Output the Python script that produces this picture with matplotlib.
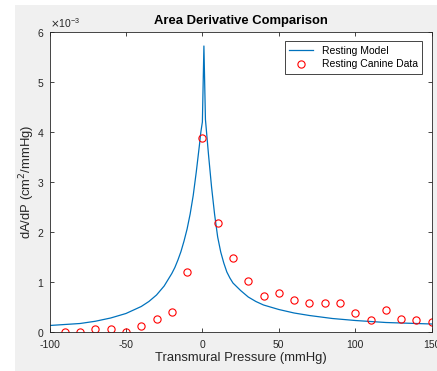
import matplotlib
matplotlib.use("Agg")
import matplotlib.pyplot as plt
import numpy as np
from matplotlib.patches import Rectangle

# Datos (dA/dP en unidades de 1e-3 cm^2/mmHg)
model_p = [-100, -90, -80, -70, -60, -50, -40, -35, -30, -25, -20, -18, -16, -14, -12, -10, -8, -6, -4, -2, -1, 0, 1,
           2, 3, 4, 6, 8, 10, 12, 14, 16, 18, 20, 25, 30, 35, 40, 50, 60, 70, 85, 100, 120, 150]
model_dadp = [0.13, 0.15, 0.17, 0.215, 0.28, 0.37, 0.51, 0.61, 0.74, 0.92, 1.17, 1.29, 1.44, 1.61, 1.82, 2.06, 2.36, 2.73, 3.2, 3.72, 4.0, 4.2, 5.72,
              4.25, 3.9, 3.55, 2.9, 2.35, 1.9, 1.6, 1.38, 1.2, 1.08, 0.98, 0.83, 0.7, 0.61, 0.54, 0.45, 0.38, 0.33, 0.27, 0.23, 0.19, 0.16]

canine_p = [-90, -80, -70, -60, -50, -40, -30, -20, -10, 0, 10, 20, 30, 40, 50,
            60, 70, 80, 90, 100, 110, 120, 130, 140, 150]
canine_dadp = [0.0, 0.0, 0.07, 0.07, 0.0, 0.13, 0.27, 0.41, 1.21, 3.89, 2.19, 1.49, 1.03, 0.73, 0.79,
               0.65, 0.59, 0.59, 0.59, 0.38, 0.24, 0.45, 0.27, 0.24, 0.21]

gris = '#262626'
plt.rcParams['font.family'] = ['Liberation Sans', 'DejaVu Sans']
plt.rcParams['axes.unicode_minus'] = False

fig = plt.figure(figsize=(4.37, 3.71), dpi=100, facecolor='white')
fig.patches.append(Rectangle((15 / 437, 0), 1 - 15 / 437, 366 / 371,
                             transform=fig.transFigure, facecolor='#f0f0f0',
                             edgecolor='none', zorder=-10))

ax = fig.add_axes([49.5 / 437, 39 / 371, 382.2 / 437, 300 / 371])
ax.plot(model_p, np.array(model_dadp) * 1e-3, color='#0072BD', lw=0.9,
        label='Resting Model')
ax.plot(canine_p, np.array(canine_dadp) * 1e-3, 'o', mfc='none', mec='#ff0000',
        ms=5.2, mew=0.8, label='Resting Canine Data')

ax.set_xlim(-100, 150)
ax.set_ylim(0, 6e-3)
ax.set_xticks([-100, -50, 0, 50, 100, 150])
ax.set_yticks(np.arange(0, 7) * 1e-3)
ax.ticklabel_format(axis='y', style='sci', scilimits=(0, 0), useMathText=True)
ax.yaxis.get_offset_text().set_fontsize(7.5)
ax.yaxis.get_offset_text().set_color(gris)

ax.tick_params(direction='in', length=3, width=0.6, top=True, right=True,
               labelsize=7.5, colors=gris)
ax.tick_params(axis='x', pad=5.5)
for s in ax.spines.values():
    s.set_color(gris)
    s.set_linewidth(0.6)

ax.set_title('Area Derivative Comparison', fontsize=9.4, fontweight='bold', pad=6)
ax.set_xlabel('Transmural Pressure (mmHg)', fontsize=9.4, color=gris, labelpad=2)
ax.set_ylabel('dA/dP (cm$^2$/mmHg)', fontsize=9.4, color=gris, labelpad=0)

leg = ax.legend(loc='upper right', fontsize=7.5, fancybox=False, framealpha=1,
                edgecolor=gris, borderaxespad=0.9, handlelength=2.3,
                borderpad=0.45, labelspacing=0.3)
leg.get_frame().set_linewidth(0.6)

fig.savefig('out.png', dpi=100, facecolor=fig.get_facecolor())
